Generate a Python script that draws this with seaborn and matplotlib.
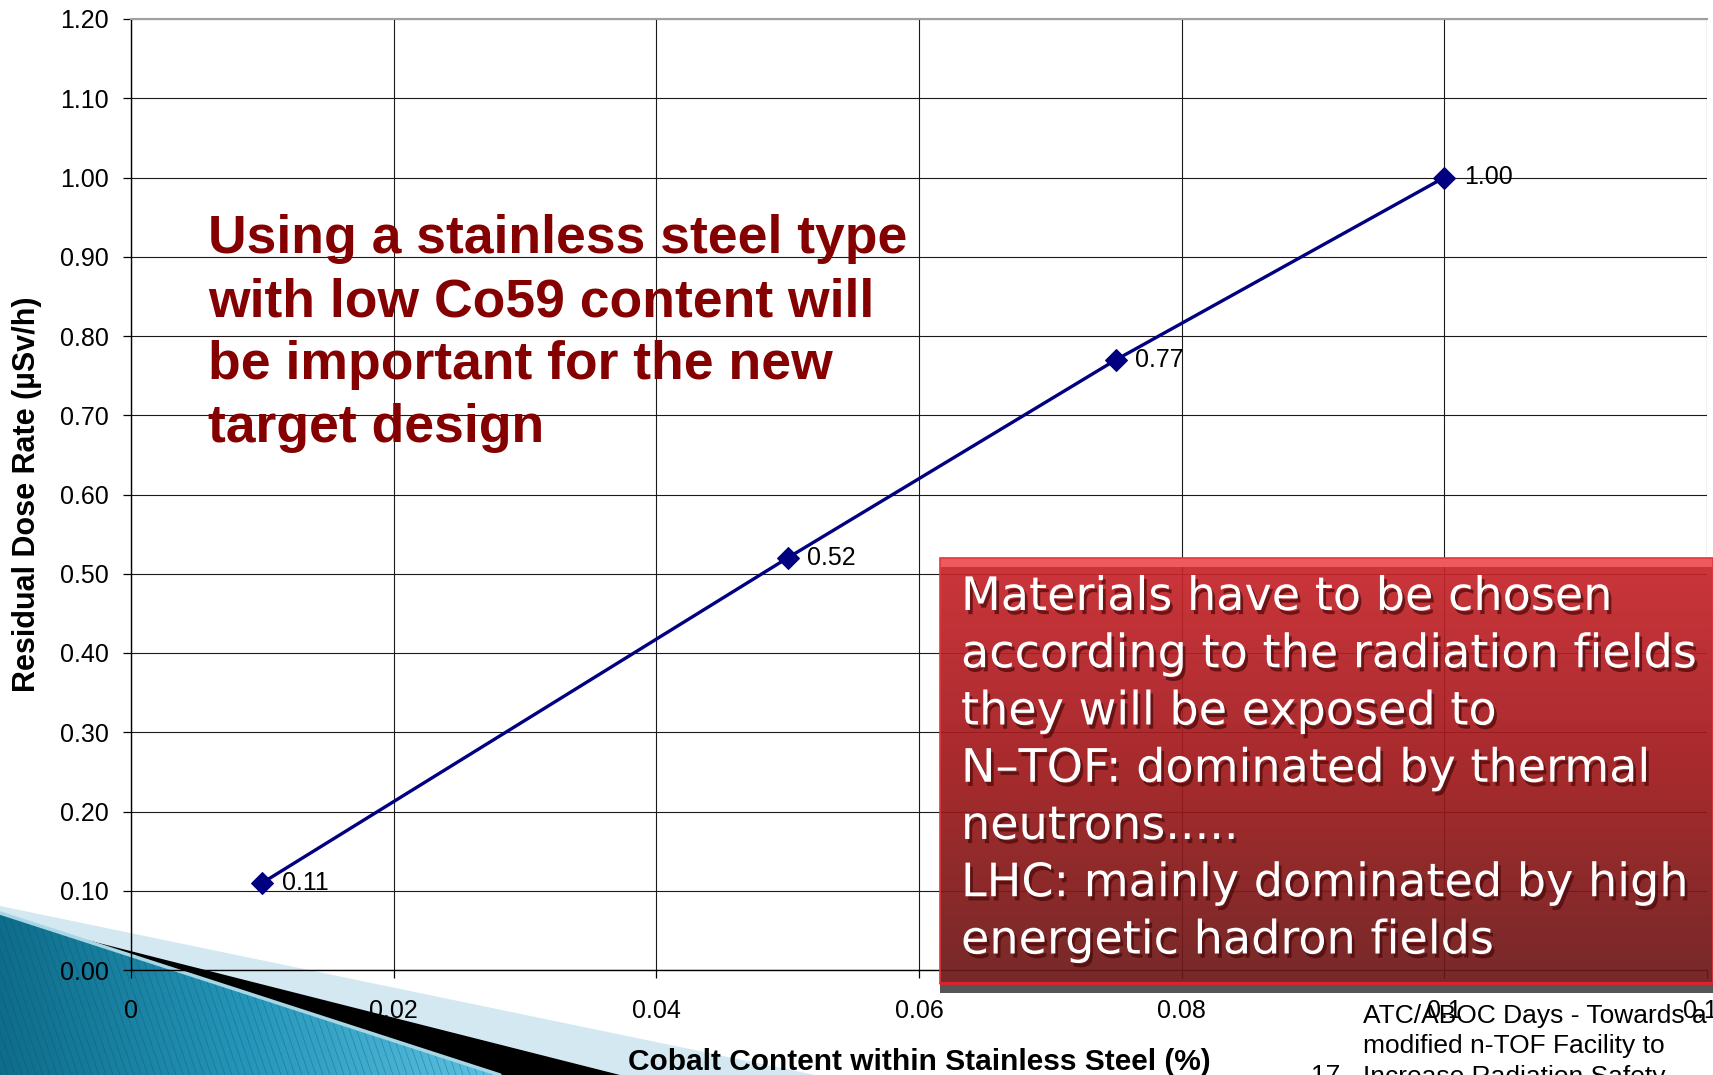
import numpy as np
import pandas as pd
import matplotlib
matplotlib.use("Agg")
import matplotlib.pyplot as plt
import matplotlib.patheffects as pe
import seaborn as sns
from matplotlib.colors import LinearSegmentedColormap
from matplotlib.patches import Polygon, Rectangle
from matplotlib.collections import LineCollection
from matplotlib.ticker import FuncFormatter

# ---- data -------------------------------------------------------------
cobalt_pct = [0.01, 0.05, 0.075, 0.10]
dose_rate = [0.11, 0.52, 0.77, 1.00]

x_ticks = [0, 0.02, 0.04, 0.06, 0.08, 0.10, 0.12]
y_ticks = [0.0, 0.1, 0.2, 0.3, 0.4, 0.5, 0.6, 0.7, 0.8, 0.9, 1.0, 1.1, 1.2]

x_label = "Cobalt Content within Stainless Steel (%)"
y_label = "Residual Dose Rate (µSv/h)"

heading_lines = [
    "Using a stainless steel type",
    "with low Co59 content will",
    "be important for the new",
    "target design",
]
box_lines = [
    "Materials have to be chosen",
    "according to the radiation fields",
    "they will be exposed to",
    "N\u2013TOF: dominated by thermal",
    "neutrons.....",
    "LHC: mainly dominated by high",
    "energetic hadron fields",
]
footer_lines = [
    "ATC/ABOC Days - Towards a",
    "modified n-TOF Facility to",
    "Increase Radiation Safety",
]
slide_number = "17"

df = pd.DataFrame({"cobalt": cobalt_pct, "dose": dose_rate})

# ---- figure -----------------------------------------------------------
sns.set_theme(style="white")
plt.rcParams["font.family"] = ["Liberation Sans", "DejaVu Sans"]

W, H = 1713, 1075
fig = plt.figure(figsize=(W / 100, H / 100), dpi=100)
fig.patch.set_facecolor("white")

# background layer (pixel coordinates, y downwards)
bg = fig.add_axes([0, 0, 1, 1], zorder=0)
bg.set_xlim(0, W)
bg.set_ylim(H, 0)
bg.axis("off")

bg.add_patch(Polygon([(0, 906), (815, 1075), (0, 1075)], closed=True,
                     facecolor="#d3e8f0", edgecolor="none", zorder=1))
bg.add_patch(Polygon([(0, 918), (620, 1075), (0, 1075)], closed=True,
                     facecolor="black", edgecolor="none", zorder=2))
blue_poly = Polygon([(0, 913), (500, 1075), (0, 1075)], closed=True,
                    facecolor="none", edgecolor="none", zorder=3)
bg.add_patch(blue_poly)
cmap_blue = LinearSegmentedColormap.from_list(
    "teal", ["#0e6d8a", "#2596ba", "#5ec2e2"])
grad = np.tile(np.linspace(0, 1, 256), (32, 1))
im = bg.imshow(grad, extent=(0, 500, 1075, 905), cmap=cmap_blue,
               aspect="auto", zorder=3)
im.set_clip_path(blue_poly)
segs = [[(x0, 900), (x0 + 60, 1075)] for x0 in range(-80, 520, 7)]
hatch = LineCollection(segs, colors="#0a4f66", linewidths=0.6, alpha=0.35,
                       zorder=4)
bg.add_collection(hatch)
hatch.set_clip_path(blue_poly)
bg.plot([0, 500], [913, 1075], color="#a8d6e4", lw=2.5, zorder=5)

# ---- chart ------------------------------------------------------------
ax = fig.add_axes([131 / W, (H - 970) / H, (1707 - 131) / W, (970 - 19) / H],
                  zorder=1)
ax.set_facecolor("none")

sns.lineplot(data=df, x="cobalt", y="dose", ax=ax, color="#000080",
             lw=2.4, marker="D", markersize=11, markeredgecolor="#000080",
             zorder=5)
for xv, yv in zip(cobalt_pct, dose_rate):
    ax.annotate(f"{yv:.2f}", (xv, yv), xytext=(14, 0),
                textcoords="offset points", va="center", ha="left",
                fontsize=18, color="black")

ax.set_xlim(0, 0.12)
ax.set_ylim(0, 1.2)
ax.set_xticks(x_ticks)
ax.set_yticks(y_ticks)
ax.xaxis.set_major_formatter(FuncFormatter(lambda v, _: f"{v:g}"))
ax.yaxis.set_major_formatter(FuncFormatter(lambda v, _: f"{v:.2f}"))
ax.grid(True, color="#1a1a1a", lw=0.8)
ax.tick_params(axis="both", direction="out", length=6, width=0.9,
               color="black", labelsize=18, labelcolor="black")
ax.tick_params(axis="x", bottom=True, pad=14.6)
ax.tick_params(axis="y", left=True, pad=10)
ax.spines["right"].set_visible(False)
ax.spines["top"].set_color("#a0a0a0")
ax.spines["top"].set_linewidth(1.5)
for s in ("left", "bottom"):
    ax.spines[s].set_color("black")
    ax.spines[s].set_linewidth(1.0)

ax.set_xlabel(x_label, fontsize=21.5, fontweight="bold", color="black")
ax.set_ylabel(y_label, fontsize=22, fontweight="bold", color="black")
ax.xaxis.set_label_coords(0.5, -0.0815)
ax.yaxis.set_label_coords(-0.0565, 0.5)

# ---- overlay: annotations --------------------------------------------
ov = fig.add_axes([0, 0, 1, 1], zorder=3)
ov.set_xlim(0, W)
ov.set_ylim(H, 0)
ov.axis("off")
ov.patch.set_alpha(0)

ov.text(208, 214, "\n".join(heading_lines), color="#850000", fontsize=38.5,
        fontweight="bold", va="top", ha="left", linespacing=1.335)

bx0, bx1, by0, by1 = 940, 1713, 558, 983
box_clip = Rectangle((bx0, by0), bx1 - bx0, by1 - by0, facecolor="none",
                     edgecolor="none")
ov.add_patch(box_clip)
cmap_red = LinearSegmentedColormap.from_list("red", ["#c8262c", "#a01a1d",
                                                     "#6c1818"])
rgrad = np.tile(np.linspace(0, 1, 256)[:, None], (1, 8))
rim = ov.imshow(rgrad, extent=(bx0, bx1, by1, by0), cmap=cmap_red,
                aspect="auto", alpha=0.93, zorder=1)
rim.set_clip_path(box_clip)
ov.add_patch(Rectangle((bx0, by0), bx1 - bx0, 9, facecolor="#f25d61",
                       edgecolor="none", alpha=0.95, zorder=2))
ov.add_patch(Rectangle((bx0, by0), bx1 - bx0, by1 - by0, facecolor="none",
                       edgecolor="#e0383c", lw=1.2, zorder=2))
ov.add_patch(Rectangle((bx0, by1), bx1 - bx0, 10, facecolor="#555555",
                       edgecolor="none", zorder=2))
ov.plot([bx0, bx1], [by1, by1], color="#e02030", lw=2, zorder=3)

ov.text(961, 575, "\n".join(box_lines), color="white", fontsize=33.2,
        family=["DejaVu Sans"], va="top", ha="left",
        linespacing=1.35, zorder=4,
        path_effects=[pe.SimplePatchShadow(offset=(2, -3),
                                           shadow_rgbFace="#4a0808",
                                           alpha=0.7),
                      pe.Normal()])

ov.text(1363, 1004, "\n".join(footer_lines), fontsize=19, color="black",
        va="top", ha="left", linespacing=1.33)
ov.text(1311, 1064, slide_number, fontsize=19, color="black",
        va="top", ha="left")

fig.savefig("out.png", dpi=100, facecolor="white")
